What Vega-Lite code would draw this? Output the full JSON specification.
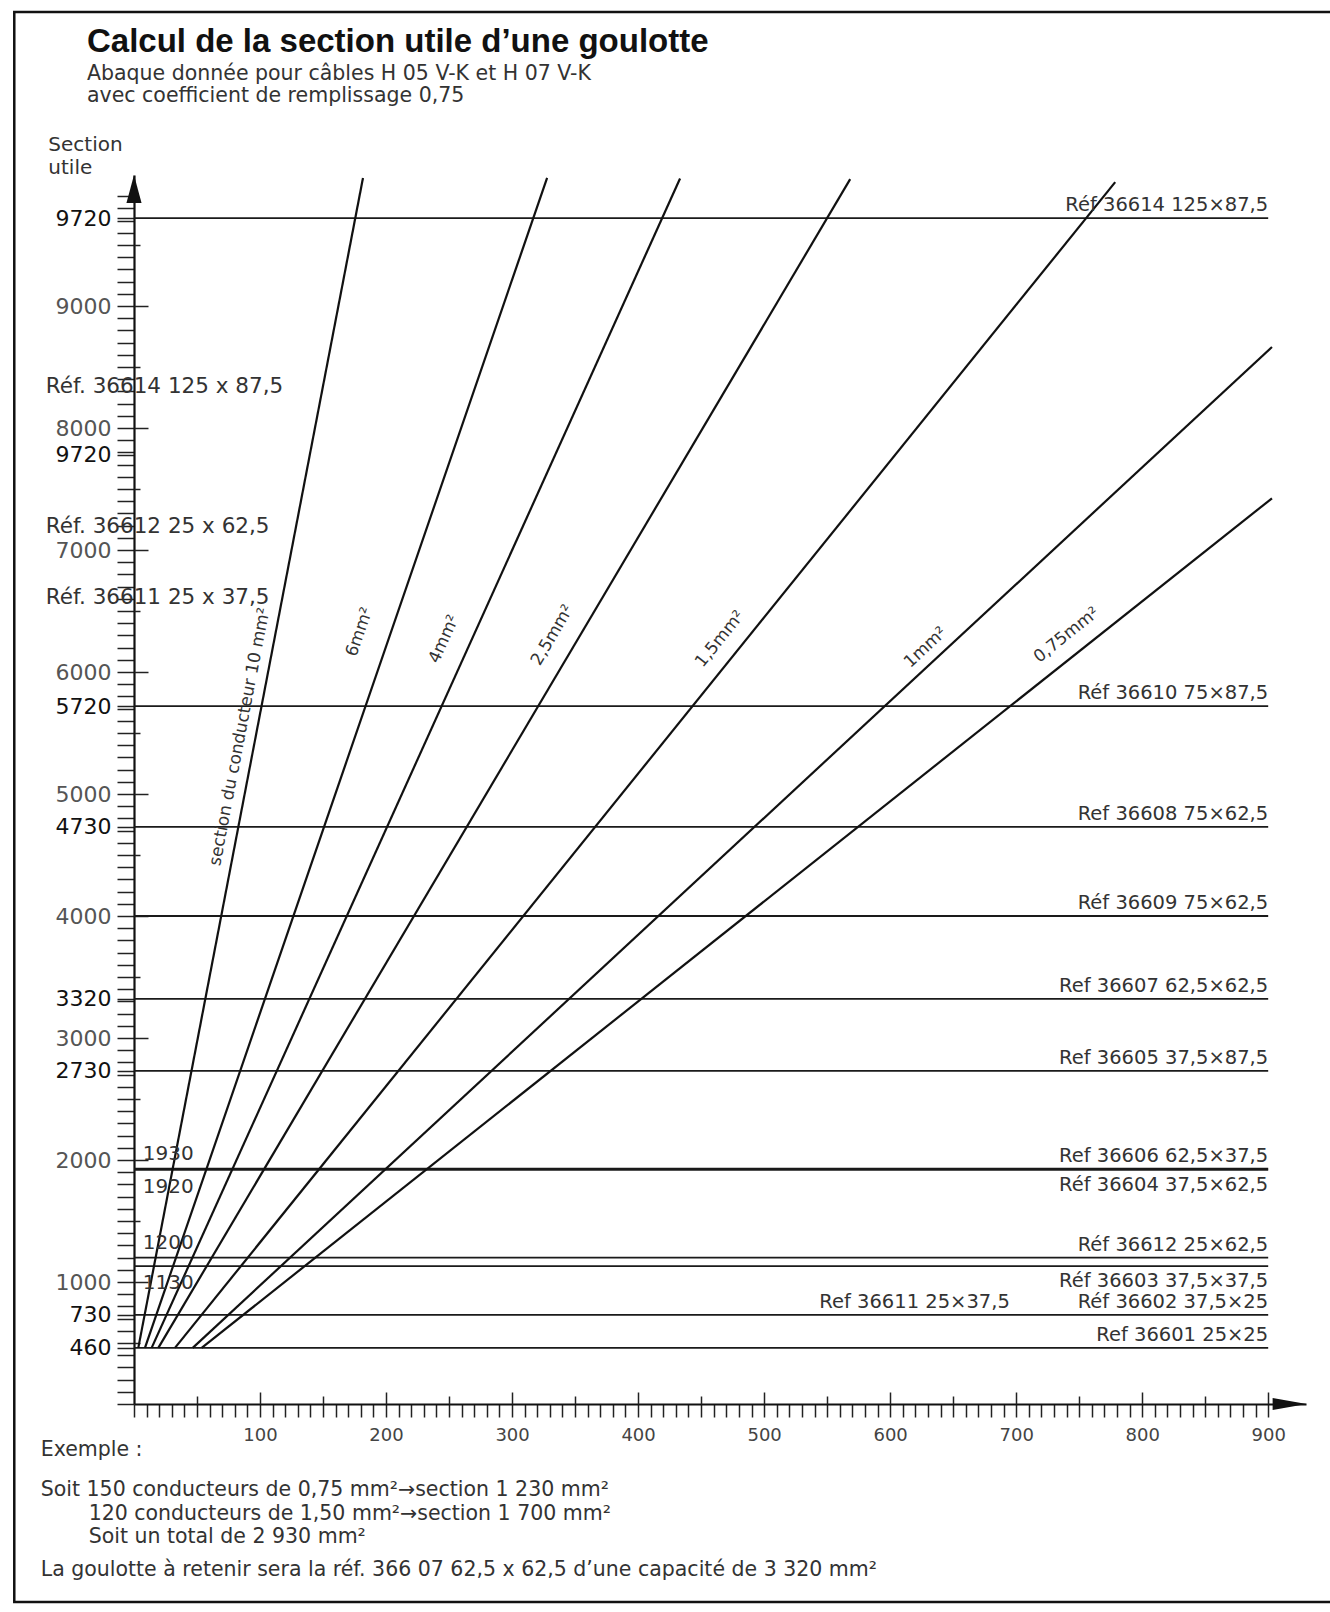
{
  "$schema": "https://vega.github.io/schema/vega-lite/v6.json",
  "width": 1172,
  "height": 1229,
  "autosize": {"type": "none"},
  "padding": {"left": 134, "top": 175, "right": 24, "bottom": 208},
  "background": "white",
  "config": {"view": {"stroke": null}, "text": {"font": "DejaVu Sans"}},
  "datasets": {
    "refLines": [
      {"section": 9720}, {"section": 5720}, {"section": 4730}, {"section": 4000},
      {"section": 3320}, {"section": 2730}, {"section": 1930}, {"section": 1920},
      {"section": 1200}, {"section": 1130}, {"section": 730}, {"section": 460}
    ],
    "fan": [
      {"c": "10", "n": 3.4, "section": 460}, {"c": "10", "n": 181.7, "section": 10050},
      {"c": "6", "n": 8.7, "section": 460}, {"c": "6", "n": 327.8, "section": 10050},
      {"c": "4", "n": 14, "section": 460}, {"c": "4", "n": 433.3, "section": 10045},
      {"c": "2.5", "n": 19.3, "section": 460}, {"c": "2.5", "n": 568.3, "section": 10040},
      {"c": "1.5", "n": 32.5, "section": 460}, {"c": "1.5", "n": 778.6, "section": 10016},
      {"c": "1", "n": 46.6, "section": 460}, {"c": "1", "n": 903, "section": 8664},
      {"c": "0.75", "n": 53.7, "section": 460}, {"c": "0.75", "n": 903, "section": 7424}
    ],
    "refLabels": [
      {"text": "Réf 36614  125×87,5", "n": 900, "section": 9720, "pos": "above"},
      {"text": "Réf 36610 75×87,5", "n": 900, "section": 5720, "pos": "above"},
      {"text": "Ref 36608 75×62,5", "n": 900, "section": 4730, "pos": "above"},
      {"text": "Réf 36609  75×62,5", "n": 900, "section": 4000, "pos": "above"},
      {"text": "Ref 36607 62,5×62,5", "n": 900, "section": 3320, "pos": "above"},
      {"text": "Ref 36605 37,5×87,5", "n": 900, "section": 2730, "pos": "above"},
      {"text": "Ref 36606  62,5×37,5", "n": 900, "section": 1930, "pos": "above"},
      {"text": "Réf 36604 37,5×62,5", "n": 900, "section": 1920, "pos": "below"},
      {"text": "Réf 36612 25×62,5", "n": 900, "section": 1200, "pos": "above"},
      {"text": "Réf 36603 37,5×37,5", "n": 900, "section": 1130, "pos": "below"},
      {"text": "Ref 36611  25×37,5", "n": 695, "section": 730, "pos": "above"},
      {"text": "Réf 36602 37,5×25", "n": 900, "section": 730, "pos": "above"},
      {"text": "Ref 36601  25×25", "n": 900, "section": 460, "pos": "above"}
    ],
    "axisNotes": [
      {"text": "1930", "n": 7, "section": 1930, "pos": "above"},
      {"text": "1920", "n": 7, "section": 1920, "pos": "below"},
      {"text": "1200", "n": 7, "section": 1200, "pos": "above"},
      {"text": "1130", "n": 7, "section": 1130, "pos": "below"}
    ],
    "fanLabels": [
      {"c": "10", "text": "section du conducteur 10 mm²", "n": 84, "section": 5470},
      {"c": "6", "text": "6mm²", "n": 179, "section": 6328},
      {"c": "4", "text": "4mm²", "n": 246, "section": 6270},
      {"c": "2.5", "text": "2,5mm²", "n": 332, "section": 6303},
      {"c": "1.5", "text": "1,5mm²", "n": 465, "section": 6270},
      {"c": "1", "text": "1mm²", "n": 628, "section": 6201},
      {"c": "0.75", "text": "0,75mm²", "n": 740, "section": 6303}
    ],
    "axisTitle": [
      {"text": "Section", "n": -68, "section": 10318},
      {"text": "utile", "n": -68, "section": 10135}
    ],
    "notes": [
      {"text": "Réf. 36614 125 x 87,5", "n": -70, "section": 8336},
      {"text": "Réf. 36612 25 x 62,5", "n": -70, "section": 7189},
      {"text": "Réf. 36611 25 x 37,5", "n": -70, "section": 6607}
    ],
    "subtitle": [
      {"text": "Abaque donnée pour câbles H 05 V-K et H 07 V-K", "n": -37.3, "section": 10905},
      {"text": "avec coefficient de remplissage 0,75", "n": -37.3, "section": 10722}
    ],
    "example": [
      {"text": "Exemple :", "n": -74, "section": -377},
      {"text": "Soit 150 conducteurs de 0,75 mm²→section 1 230 mm²", "n": -74, "section": -705},
      {"text": "120 conducteurs de 1,50 mm²→section 1 700 mm²", "n": -36, "section": -905},
      {"text": "Soit un total de 2 930 mm²", "n": -36, "section": -1088},
      {"text": "La goulotte à retenir sera la réf. 366 07  62,5 x 62,5 d’une capacité de 3 320 mm²", "n": -74, "section": -1359}
    ],
    "title": [
      {"text": "Calcul de la section utile d’une goulotte", "n": -37.3, "section": 11165}
    ],
    "arrows": [
      {"dir": "up", "n": 0, "section": 9960},
      {"dir": "right", "n": 917, "section": 0}
    ]
  },
  "layer": [
    {
      "data": {"values": [{}]},
      "mark": {"type": "rect", "fill": null, "stroke": "#111", "strokeWidth": 2.5},
      "encoding": {
        "x": {"datum": -95, "type": "quantitative", "axis": null},
        "x2": {"datum": 1100},
        "y": {"datum": 11410, "type": "quantitative", "axis": null},
        "y2": {"datum": -1623}
      }
    },
    {
      "data": {"name": "refLines"},
      "mark": {"type": "rule", "color": "#1a1a1a", "strokeWidth": 1.8},
      "encoding": {
        "x": {"datum": 0, "type": "quantitative", "axis": null},
        "x2": {"datum": 900},
        "y": {
          "field": "section", "type": "quantitative",
          "scale": {"domain": [0, 10074], "nice": false, "zero": false},
          "axis": {
            "orient": "left",
            "values": [0,100,200,300,400,500,600,700,800,900,1000,1100,1200,1300,1400,1500,1600,1700,1800,1900,2000,2100,2200,2300,2400,2500,2600,2700,2800,2900,3000,3100,3200,3300,3400,3500,3600,3700,3800,3900,4000,4100,4200,4300,4400,4500,4600,4700,4800,4900,5000,5100,5200,5300,5400,5500,5600,5700,5800,5900,6000,6100,6200,6300,6400,6500,6600,6700,6800,6900,7000,7100,7200,7300,7400,7500,7600,7700,7800,7900,8000,8100,8200,8300,8400,8500,8600,8700,8800,8900,9000,9100,9200,9300,9400,9500,9600,9700,9800,9900,460,730,2730,3320,4730,5720,7780,9720],
            "format": "d",
            "labelExpr": "indexof([9720,9000,8000,7000,6000,5720,5000,4730,4000,3320,3000,2730,2000,1000,730,460], datum.value) >= 0 ? datum.label : (datum.value == 7780 ? '9720' : '')",
            "tickSize": 17, "tickColor": "#222", "tickWidth": 1.5,
            "domainColor": "#111", "domainWidth": 2.2,
            "labelFont": "DejaVu Sans", "labelFontSize": 22,
            "labelColor": {"condition": {"test": "indexof([9720,5720,4730,3320,2730,730,460,7780], datum.value) >= 0", "value": "#111"}, "value": "#555"},
            "labelPadding": 6, "labelOverlap": false, "labelFlush": false,
            "title": null, "grid": false
          }
        }
      }
    },
    {
      "data": {"name": "fan"},
      "mark": {"type": "line", "color": "#111", "strokeWidth": 2.2},
      "encoding": {
        "x": {
          "field": "n", "type": "quantitative",
          "scale": {"domain": [0, 930], "nice": false, "zero": false},
          "axis": {
            "orient": "bottom",
            "values": [0,10,20,30,40,50,60,70,80,90,100,110,120,130,140,150,160,170,180,190,200,210,220,230,240,250,260,270,280,290,300,310,320,330,340,350,360,370,380,390,400,410,420,430,440,450,460,470,480,490,500,510,520,530,540,550,560,570,580,590,600,610,620,630,640,650,660,670,680,690,700,710,720,730,740,750,760,770,780,790,800,810,820,830,840,850,860,870,880,890,900],
            "format": "d",
            "labelExpr": "datum.value > 0 && datum.value % 100 == 0 ? datum.label : ''",
            "tickSize": 13, "tickColor": "#222", "tickWidth": 1.5,
            "domainColor": "#111", "domainWidth": 2.2,
            "labelFont": "DejaVu Sans", "labelFontSize": 18, "labelColor": "#444",
            "labelPadding": 9, "labelOverlap": false, "labelFlush": false,
            "title": null, "grid": false
          }
        },
        "y": {
          "field": "section", "type": "quantitative",
          "axis": {
            "orient": "left", "values": [1000,2000,3000,4000,5000,6000,7000,8000,9000],
            "tickSize": -14, "tickColor": "#222", "tickWidth": 1.5,
            "labels": false, "domain": false, "title": null, "grid": false
          }
        },
        "detail": {"field": "c"}
      }
    },
    {
      "data": {"name": "refLabels"},
      "transform": [{"filter": "datum.pos == 'above'"}],
      "mark": {"type": "text", "align": "right", "baseline": "middle", "dy": -13, "fontSize": 19.5, "color": "#333"},
      "encoding": {
        "x": {"field": "n", "type": "quantitative", "axis": null},
        "y": {"field": "section", "type": "quantitative", "axis": null},
        "text": {"field": "text"}
      }
    },
    {
      "data": {"name": "refLabels"},
      "transform": [{"filter": "datum.pos == 'below'"}],
      "mark": {"type": "text", "align": "right", "baseline": "middle", "dy": 15, "fontSize": 19.5, "color": "#333"},
      "encoding": {
        "x": {"field": "n", "type": "quantitative", "axis": null},
        "y": {"field": "section", "type": "quantitative", "axis": null},
        "text": {"field": "text"}
      }
    },
    {
      "data": {"name": "axisNotes"},
      "transform": [{"filter": "datum.pos == 'above'"}],
      "mark": {"type": "text", "align": "left", "baseline": "middle", "dy": -15, "fontSize": 20, "color": "#333"},
      "encoding": {
        "x": {"field": "n", "type": "quantitative", "axis": null},
        "y": {"field": "section", "type": "quantitative", "axis": null},
        "text": {"field": "text"}
      }
    },
    {
      "data": {"name": "axisNotes"},
      "transform": [{"filter": "datum.pos == 'below'"}],
      "mark": {"type": "text", "align": "left", "baseline": "middle", "dy": 17, "fontSize": 20, "color": "#333"},
      "encoding": {
        "x": {"field": "n", "type": "quantitative", "axis": null},
        "y": {"field": "section", "type": "quantitative", "axis": null},
        "text": {"field": "text"}
      }
    },
    {
      "data": {"name": "fanLabels"},
      "transform": [{"filter": "datum.c == '10'"}],
      "mark": {"type": "text", "align": "center", "baseline": "middle", "angle": -79.1, "fontSize": 17, "color": "#333"},
      "encoding": {
        "x": {
          "field": "n", "type": "quantitative",
          "axis": {
            "orient": "bottom", "values": [50,150,250,350,450,550,650,750,850],
            "tickSize": -8, "tickColor": "#222", "tickWidth": 1.5,
            "labels": false, "domain": false, "title": null, "grid": false
          }
        },
        "y": {"field": "section", "type": "quantitative", "axis": null},
        "text": {"field": "text"}
      }
    },
    {
      "data": {"name": "fanLabels"},
      "transform": [{"filter": "datum.c == '6'"}],
      "mark": {"type": "text", "align": "center", "baseline": "middle", "angle": -71, "fontSize": 17, "color": "#333"},
      "encoding": {
        "x": {"field": "n", "type": "quantitative", "axis": null},
        "y": {"field": "section", "type": "quantitative", "axis": null},
        "text": {"field": "text"}
      }
    },
    {
      "data": {"name": "fanLabels"},
      "transform": [{"filter": "datum.c == '4'"}],
      "mark": {"type": "text", "align": "center", "baseline": "middle", "angle": -65.7, "fontSize": 17, "color": "#333"},
      "encoding": {
        "x": {"field": "n", "type": "quantitative", "axis": null},
        "y": {"field": "section", "type": "quantitative", "axis": null},
        "text": {"field": "text"}
      }
    },
    {
      "data": {"name": "fanLabels"},
      "transform": [{"filter": "datum.c == '2.5'"}],
      "mark": {"type": "text", "align": "center", "baseline": "middle", "angle": -59.4, "fontSize": 17, "color": "#333"},
      "encoding": {
        "x": {"field": "n", "type": "quantitative", "axis": null},
        "y": {"field": "section", "type": "quantitative", "axis": null},
        "text": {"field": "text"}
      }
    },
    {
      "data": {"name": "fanLabels"},
      "transform": [{"filter": "datum.c == '1.5'"}],
      "mark": {"type": "text", "align": "center", "baseline": "middle", "angle": -51.1, "fontSize": 17, "color": "#333"},
      "encoding": {
        "x": {"field": "n", "type": "quantitative", "axis": null},
        "y": {"field": "section", "type": "quantitative", "axis": null},
        "text": {"field": "text"}
      }
    },
    {
      "data": {"name": "fanLabels"},
      "transform": [{"filter": "datum.c == '1'"}],
      "mark": {"type": "text", "align": "center", "baseline": "middle", "angle": -42.8, "fontSize": 17, "color": "#333"},
      "encoding": {
        "x": {"field": "n", "type": "quantitative", "axis": null},
        "y": {"field": "section", "type": "quantitative", "axis": null},
        "text": {"field": "text"}
      }
    },
    {
      "data": {"name": "fanLabels"},
      "transform": [{"filter": "datum.c == '0.75'"}],
      "mark": {"type": "text", "align": "center", "baseline": "middle", "angle": -38.4, "fontSize": 17, "color": "#333"},
      "encoding": {
        "x": {"field": "n", "type": "quantitative", "axis": null},
        "y": {"field": "section", "type": "quantitative", "axis": null},
        "text": {"field": "text"}
      }
    },
    {
      "data": {"name": "notes"},
      "mark": {"type": "text", "align": "left", "baseline": "middle", "fontSize": 21.5, "color": "#333"},
      "encoding": {
        "x": {
          "field": "n", "type": "quantitative",
          "axis": {
            "orient": "bottom", "values": [100,200,300,400,500,600,700,800,900],
            "tickSize": -12, "tickColor": "#222", "tickWidth": 1.5,
            "labels": false, "domain": false, "title": null, "grid": false
          }
        },
        "y": {
          "field": "section", "type": "quantitative",
          "axis": {
            "orient": "left", "values": [500,1500,2500,3500,4500,5500,6500,7500,8500,9500],
            "tickSize": -6, "tickColor": "#222", "tickWidth": 1.5,
            "labels": false, "domain": false, "title": null, "grid": false
          }
        },
        "text": {"field": "text"}
      }
    },
    {
      "data": {"name": "axisTitle"},
      "mark": {"type": "text", "align": "left", "baseline": "middle", "fontSize": 20, "color": "#333"},
      "encoding": {
        "x": {"field": "n", "type": "quantitative", "axis": null},
        "y": {"field": "section", "type": "quantitative", "axis": null},
        "text": {"field": "text"}
      }
    },
    {
      "data": {"name": "subtitle"},
      "mark": {"type": "text", "align": "left", "baseline": "middle", "fontSize": 20.5, "color": "#333"},
      "encoding": {
        "x": {"field": "n", "type": "quantitative", "axis": null},
        "y": {"field": "section", "type": "quantitative", "axis": null},
        "text": {"field": "text"}
      }
    },
    {
      "data": {"name": "example"},
      "mark": {"type": "text", "align": "left", "baseline": "middle", "fontSize": 20.5, "color": "#333"},
      "encoding": {
        "x": {"field": "n", "type": "quantitative", "axis": null},
        "y": {"field": "section", "type": "quantitative", "axis": null},
        "text": {"field": "text"}
      }
    },
    {
      "data": {"name": "title"},
      "mark": {"type": "text", "align": "left", "baseline": "middle", "font": "Liberation Sans", "fontWeight": "bold", "fontSize": 33, "color": "#111"},
      "encoding": {
        "x": {"field": "n", "type": "quantitative", "axis": null},
        "y": {"field": "section", "type": "quantitative", "axis": null},
        "text": {"field": "text"}
      }
    },
    {
      "data": {"name": "arrows"},
      "transform": [{"filter": "datum.dir == 'up'"}],
      "mark": {"type": "point", "filled": true, "color": "#111", "opacity": 1, "size": 784, "shape": "M0,-1L0.54,1L-0.54,1Z"},
      "encoding": {
        "x": {"field": "n", "type": "quantitative", "axis": null},
        "y": {"field": "section", "type": "quantitative", "axis": null}
      }
    },
    {
      "data": {"name": "arrows"},
      "transform": [{"filter": "datum.dir == 'right'"}],
      "mark": {"type": "point", "filled": true, "color": "#111", "opacity": 1, "size": 1156, "shape": "M1,0L-1,-0.35L-1,0.35Z"},
      "encoding": {
        "x": {"field": "n", "type": "quantitative", "axis": null},
        "y": {"field": "section", "type": "quantitative", "axis": null}
      }
    }
  ],
  "resolve": {"axis": {"x": "independent", "y": "independent"}}
}
